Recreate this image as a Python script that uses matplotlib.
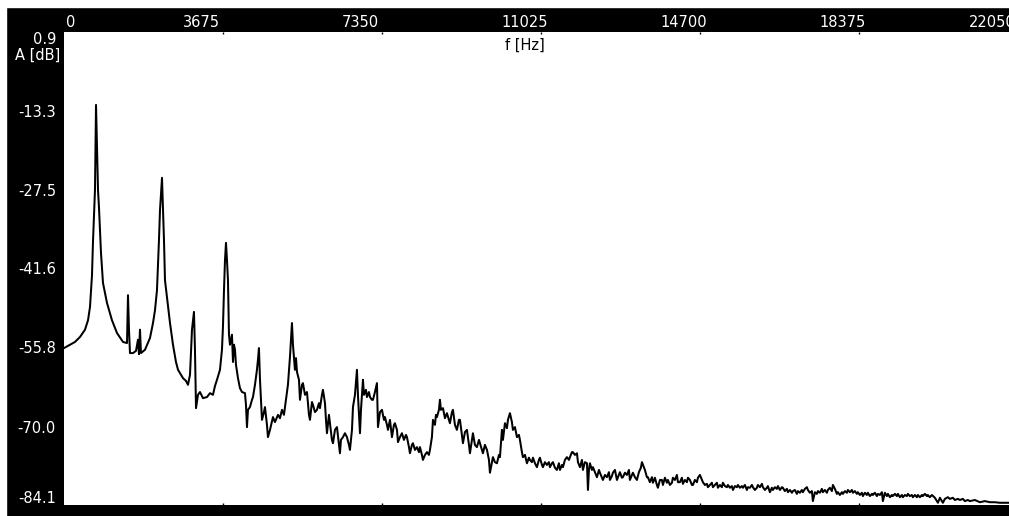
import numpy as np
import matplotlib.pyplot as plt
from matplotlib.patches import Rectangle

# Spectrum: frequency (Hz) and level (dB), split in bands

# 0 - 3.7 kHz: first three harmonics
freq_low = [0, 139, 254, 370, 485, 555, 601, 647, 670, 716,
            740, 763, 786, 809, 855, 901, 994, 1109, 1225, 1364,
            1456, 1479, 1502, 1525, 1595, 1664, 1710, 1733, 1756, 1779,
            1872, 1987, 2057, 2103, 2149, 2195, 2219, 2265, 2288, 2311,
            2334, 2380, 2450, 2519, 2588, 2635, 2704, 2750, 2819, 2866,
            2912, 2958, 3004, 3027, 3051, 3097, 3143, 3212, 3305, 3374,
            3443, 3490, 3536, 3605, 3651]
level_low = [-55.9, -55.3, -54.8, -53.9, -52.6, -50.9, -48.5, -42.8, -36.8, -27.5,
             -12.2, -20.3, -27.5, -30.7, -38.8, -44.2, -47.8, -50.9, -53.2, -54.8,
             -55.0, -46.4, -52.6, -56.8, -56.8, -56.4, -54.4, -57.0, -52.6, -56.8,
             -56.2, -54.1, -51.4, -49.1, -45.5, -36.5, -31.1, -25.3, -31.1, -36.5,
             -43.7, -46.7, -51.4, -55.3, -58.4, -59.8, -60.7, -61.3, -61.8, -62.5,
             -60.7, -52.6, -49.4, -56.2, -66.7, -64.3, -63.8, -64.9, -64.7, -64.0,
             -64.3, -62.7, -61.6, -59.8, -56.2]

# 3.7 - 11 kHz: upper harmonics and formant bumps
freq_mid = [3674, 3698, 3721, 3744, 3767, 3790, 3813, 3836, 3882, 3906,
            3929, 3952, 3975, 4021, 4067, 4114, 4183, 4206, 4229, 4252,
            4298, 4345, 4368, 4414, 4460, 4483, 4506, 4530, 4576, 4622,
            4645, 4691, 4714, 4761, 4830, 4876, 4946, 4992, 5038, 5084,
            5130, 5176, 5223, 5246, 5269, 5292, 5338, 5362, 5385, 5431,
            5454, 5500, 5523, 5570, 5616, 5662, 5685, 5731, 5754, 5801,
            5847, 5893, 5916, 5962, 5985, 6032, 6055, 6078, 6124, 6147,
            6193, 6217, 6263, 6309, 6355, 6378, 6401, 6448, 6494, 6540,
            6586, 6609, 6656, 6679, 6725, 6771, 6794, 6841, 6864, 6910,
            6933, 6979, 7002, 7049, 7072, 7118, 7141, 7187, 7233, 7257,
            7303, 7349, 7395, 7418, 7465, 7488, 7534, 7580, 7626, 7649,
            7696, 7719, 7765, 7811, 7857, 7904, 7927, 7973, 7996, 8042,
            8065, 8112, 8158, 8204, 8227, 8273, 8296, 8343, 8389, 8435,
            8458, 8504, 8528, 8574, 8597, 8620, 8666, 8689, 8712, 8759,
            8805, 8851, 8897, 8920, 8967, 8990, 9036, 9082, 9128, 9152,
            9198, 9221, 9267, 9313, 9360, 9383, 9429, 9452, 9498, 9544,
            9591, 9614, 9660, 9683, 9729, 9776, 9822, 9845, 9891, 9914,
            9960, 10007, 10053, 10076, 10122, 10145, 10192, 10238, 10261, 10307,
            10353, 10376, 10423, 10469, 10515, 10538, 10584, 10607, 10654, 10700,
            10746, 10769, 10815, 10839, 10885, 10931, 10977, 11000]
level_mid = [-52.1, -45.5, -40.1, -37.0, -40.1, -43.7, -53.5, -55.3, -53.5, -58.4,
             -55.3, -56.2, -58.9, -61.3, -63.1, -63.8, -64.0, -66.1, -70.1, -67.0,
             -66.5, -65.2, -64.7, -62.5, -59.8, -58.0, -55.9, -61.6, -68.8, -67.4,
             -66.5, -69.7, -71.9, -70.6, -68.3, -69.2, -67.9, -68.5, -67.0, -67.9,
             -65.2, -62.5, -57.5, -54.4, -51.4, -55.3, -59.8, -57.7, -60.2, -61.6,
             -65.2, -62.5, -62.2, -64.3, -63.8, -67.9, -68.8, -65.6, -66.1, -67.4,
             -67.0, -65.8, -66.7, -64.3, -63.4, -65.8, -68.8, -71.2, -67.9, -69.4,
             -72.4, -73.0, -70.6, -70.1, -73.3, -74.8, -72.4, -71.9, -71.2, -71.9,
             -73.3, -74.2, -70.6, -66.5, -64.3, -59.8, -64.3, -71.2, -67.0, -61.6,
             -64.3, -63.4, -64.7, -63.8, -64.7, -65.2, -65.2, -63.8, -62.2, -70.1,
             -67.4, -67.0, -68.8, -68.3, -69.7, -70.6, -68.8, -71.9, -69.7, -69.4,
             -70.6, -72.8, -71.9, -71.2, -72.4, -71.5, -71.9, -73.7, -74.8, -73.3,
             -73.0, -74.2, -73.7, -74.6, -73.7, -75.1, -76.0, -75.1, -74.6, -75.1,
             -74.2, -71.9, -68.8, -69.7, -67.9, -68.3, -67.0, -65.2, -67.0, -66.7,
             -68.5, -67.6, -68.8, -69.4, -67.4, -67.0, -69.7, -70.6, -68.8, -68.8,
             -71.5, -73.0, -71.0, -70.6, -73.3, -74.8, -72.4, -71.2, -73.3, -73.7,
             -72.4, -73.0, -74.2, -74.8, -73.3, -74.2, -76.0, -78.3, -76.4, -75.5,
             -76.4, -76.6, -75.1, -75.5, -70.6, -72.4, -69.4, -70.3, -68.8, -67.6,
             -69.2, -70.6, -70.1, -71.9, -71.5, -72.4, -74.6, -75.5, -75.1, -76.6,
             -75.6, -76.0, -76.4, -75.6, -76.6, -77.3, -76.0, -75.6]

# 11 - 16.5 kHz
freq_upper = [11047, 11070, 11116, 11162, 11208, 11231, 11278, 11301, 11347, 11393,
              11439, 11463, 11509, 11532, 11578, 11624, 11671, 11694, 11740, 11763,
              11809, 11856, 11879, 11925, 11971, 11994, 12040, 12087, 12110, 12133,
              12156, 12202, 12225, 12271, 12318, 12364, 12387, 12433, 12456, 12503,
              12549, 12595, 12618, 12664, 12687, 12734, 12780, 12826, 12849, 12895,
              12918, 12965, 13011, 13057, 13080, 13126, 13149, 13196, 13242, 13288,
              13334, 13358, 13404, 13427, 13473, 13496, 13542, 13589, 13612, 13658,
              13704, 13727, 13774, 13820, 13843, 13889, 13935, 13958, 14005, 14051,
              14074, 14120, 14166, 14190, 14236, 14282, 14305, 14351, 14398, 14421,
              14467, 14513, 14536, 14582, 14629, 14652, 14698, 14744, 14767, 14814,
              14860, 14883, 14929, 14975, 14998, 15045, 15091, 15114, 15160, 15206,
              15229, 15276, 15322, 15345, 15391, 15437, 15461, 15507, 15553, 15576,
              15622, 15669, 15692, 15738, 15784, 15807, 15853, 15900, 15923, 15969,
              16015, 16038, 16085, 16131, 16154, 16200, 16246, 16269, 16316, 16362,
              16385, 16431, 16477, 16501]
level_upper = [-76.9, -77.3, -76.4, -76.9, -76.4, -77.3, -76.6, -76.4, -77.4, -77.8,
               -76.6, -77.8, -76.9, -77.3, -76.0, -75.5, -76.0, -75.5, -74.6, -74.6,
               -75.1, -74.8, -76.4, -77.3, -76.0, -77.8, -76.4, -76.6, -81.4, -77.8,
               -76.6, -77.8, -77.3, -78.2, -79.1, -77.8, -78.3, -79.2, -79.6, -78.7,
               -79.1, -78.2, -79.6, -78.9, -78.3, -77.8, -79.6, -78.7, -78.2, -79.2,
               -79.1, -78.3, -78.7, -77.8, -79.6, -78.7, -78.3, -79.1, -79.6, -78.2,
               -77.4, -76.4, -77.3, -77.8, -79.1, -79.1, -80.0, -79.1, -80.1, -79.2,
               -80.5, -81.0, -79.6, -79.6, -80.5, -79.2, -80.1, -79.6, -80.5, -80.1,
               -79.2, -79.6, -78.7, -80.0, -80.0, -79.2, -80.3, -79.6, -80.0, -79.2,
               -79.6, -80.5, -80.5, -79.6, -80.0, -79.2, -78.7, -79.6, -80.0, -80.5,
               -80.3, -80.9, -80.5, -80.1, -80.9, -80.5, -80.1, -81.0, -80.5, -80.9,
               -80.1, -80.7, -80.9, -80.5, -81.0, -80.7, -81.4, -80.7, -80.9, -80.5,
               -81.0, -80.7, -81.0, -80.5, -81.4, -80.9, -81.0, -80.5, -80.9, -81.4,
               -81.0, -80.5, -80.9, -80.3, -80.9, -81.4, -81.0, -80.7, -81.8, -81.0,
               -81.4, -80.9, -81.2, -80.7]

# 16.5 - 22 kHz: noise floor
freq_top = [16547, 16593, 16616, 16662, 16709, 16732, 16778, 16824, 16847, 16893,
            16940, 16963, 17009, 17055, 17078, 17125, 17171, 17194, 17240, 17286,
            17309, 17356, 17402, 17425, 17471, 17517, 17540, 17587, 17633, 17656,
            17702, 17748, 17772, 17818, 17864, 17887, 17933, 17980, 18003, 18049,
            18095, 18118, 18164, 18211, 18234, 18280, 18326, 18349, 18396, 18442,
            18465, 18511, 18557, 18580, 18627, 18673, 18696, 18742, 18788, 18812,
            18858, 18904, 18927, 18973, 19020, 19043, 19089, 19135, 19158, 19205,
            19251, 19274, 19320, 19366, 19389, 19436, 19482, 19505, 19551, 19597,
            19620, 19667, 19713, 19736, 19782, 19829, 19852, 19898, 19944, 19967,
            20013, 20060, 20129, 20199, 20245, 20314, 20360, 20429, 20475, 20545,
            20591, 20660, 20707, 20776, 20822, 20891, 20938, 21053, 21169, 21284,
            21400, 21515, 21631, 21747, 21862, 22050]
level_top = [-81.4, -80.9, -81.0, -81.6, -81.2, -81.8, -81.4, -81.9, -81.6, -81.4,
             -82.1, -81.6, -81.9, -81.4, -81.8, -81.2, -80.9, -81.4, -81.9, -81.6,
             -83.4, -81.8, -82.1, -81.6, -81.9, -81.2, -81.8, -81.4, -81.9, -81.4,
             -81.0, -81.6, -80.5, -81.2, -82.1, -81.8, -82.3, -81.8, -82.1, -81.6,
             -81.9, -81.4, -81.8, -81.4, -81.9, -81.6, -82.1, -81.8, -82.3, -81.9,
             -82.5, -81.9, -82.3, -81.9, -82.5, -82.1, -82.3, -81.9, -82.5, -82.1,
             -82.3, -81.8, -83.4, -81.9, -82.5, -82.1, -82.7, -82.3, -82.5, -82.1,
             -82.5, -82.1, -82.7, -82.3, -82.7, -82.3, -82.5, -82.1, -82.5, -82.3,
             -82.7, -82.3, -82.7, -82.3, -82.7, -82.3, -82.5, -82.1, -82.5, -82.3,
             -82.7, -82.3, -82.8, -83.7, -82.8, -83.7, -83.0, -82.7, -83.0, -82.8,
             -83.2, -83.0, -83.2, -83.0, -83.4, -83.2, -83.4, -83.2, -83.6, -83.4,
             -83.6, -83.6, -83.7, -83.7, -83.7, -83.9]

x_ticks = [0, 3675, 7350, 11025, 14700, 18375, 22050]
x_labels = ['0', '3675', '7350', '11025', '14700', '18375', '22050']
y_ticks = [0.9, -13.3, -27.5, -41.6, -55.8, -70.0, -84.1]
y_labels = ['0.9', '-13.3', '-27.5', '-41.6', '-55.8', '-70.0', '-84.1']

freq_hz = np.array(freq_low + freq_mid + freq_upper + freq_top)
level_db = np.array(level_low + level_mid + level_upper + level_top)

W, H = 1009, 516
fig = plt.figure(figsize=(W / 100, H / 100), dpi=100, facecolor='black')
# thin white margin on top and left, as in the screenshot
fig.add_artist(Rectangle((0, 1 - 7 / H), 1, 7 / H, transform=fig.transFigure,
                         color='white', zorder=0))
fig.add_artist(Rectangle((0, 0), 6 / W, 1, transform=fig.transFigure,
                         color='white', zorder=0))

# plot area runs slightly past the right edge of the image
ax = fig.add_axes([64 / W, 11 / H, 954 / W, 473 / H])
ax.set_facecolor('white')
ax.plot(freq_hz, level_db, color='black', lw=1.45)
ax.set_xlim(x_ticks[0], x_ticks[-1])
ax.set_ylim(y_ticks[-1], y_ticks[0])
for s in ax.spines.values():
    s.set_visible(False)

ax.set_xticks(x_ticks[1:-1])
ax.set_yticks([])
ax.tick_params(axis='x', direction='in', top=True, bottom=True, length=1.5,
               width=1, color='black', labelbottom=False, labeltop=False)

fs = 10.5
txt = dict(color='white', fontsize=fs, textcoords='offset points')

# frequency labels above the plot
for i, (v, s) in enumerate(zip(x_ticks, x_labels)):
    if i == 0:
        dx, ha = 1.5, 'left'
    elif i == len(x_ticks) - 1:
        dx, ha = -2, 'right'
    else:
        dx, ha = -28.8, 'left'
    ax.annotate(s, xy=(v, 1), xycoords=('data', 'axes fraction'),
                xytext=(dx, 3.6), ha=ha, va='baseline', **txt)

# level labels to the left
for i, (v, s) in enumerate(zip(y_ticks, y_labels)):
    if i == 0:
        dy = -8.4
    elif i == len(y_ticks) - 1:
        dy = 1.4
    else:
        dy = -4.3
    ax.annotate(s, xy=(0, v), xycoords=('axes fraction', 'data'),
                xytext=(-5.8, dy), ha='right', va='baseline', **txt)

ax.annotate('A [dB]', xy=(0, 1), xycoords='axes fraction', xytext=(-3, -20.2),
            ha='right', va='baseline', **txt)
ax.annotate('f [Hz]', xy=(0.4832, 1), xycoords='axes fraction', xytext=(0, -13),
            textcoords='offset points', ha='center', va='baseline',
            color='black', fontsize=fs)

fig.savefig('out.png', dpi=100, facecolor=fig.get_facecolor())
